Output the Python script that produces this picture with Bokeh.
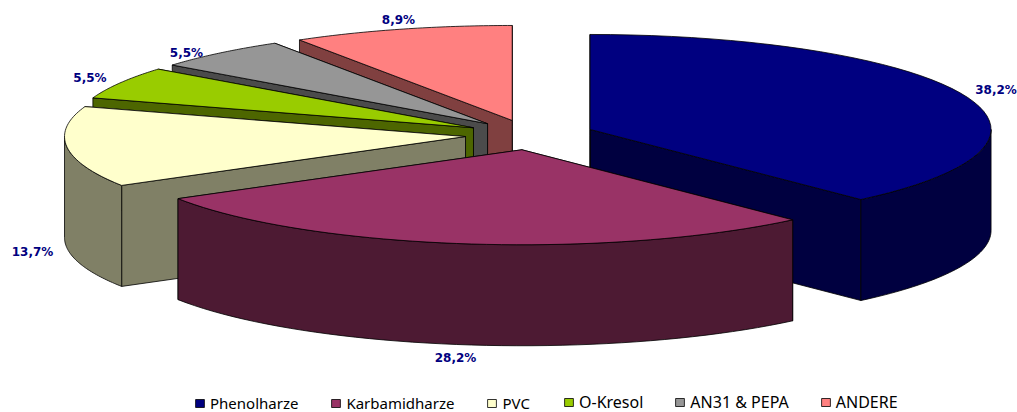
import numpy as np
from bokeh.plotting import figure
from bokeh.models import Range1d, Legend, LegendItem
from bokeh.core.properties import value
from bokeh.embed import file_html
from bokeh.resources import INLINE

categories = ["Phenolharze", "Karbamidharze", "PVC", "O-Kresol", "AN31 & PEPA", "ANDERE"]
shares = [38.2, 28.2, 13.7, 5.5, 5.5, 8.9]
share_labels = ["38,2%", "28,2%", "13,7%", "5,5%", "5,5%", "8,9%"]

top_colors = ["#000080", "#993366", "#FFFFCC", "#99CC00", "#969696", "#FF8080"]
side_colors = ["#000040", "#4D1A33", "#808066", "#4D6600", "#4B4B4B", "#804040"]
label_x = [995.5, 455, 32, 89.5, 186, 398]
label_y = [89, 357, 251, 77, 52, 19]
apex_nudge_x = [0.5, 0.5, -2, -1.2, -0.6, -0.8]

CX, CY, RX, RY, DEPTH, EXPLODE = 530.0, 134.4, 401.0, 95.0, 101.0, 0.158
EDGE = "#000000"
EW = 0.8

p = figure(width=1017, height=412, output_backend="svg", toolbar_location=None,
           x_range=Range1d(0, 1017), y_range=Range1d(412, 0),
           min_border=0, outline_line_color=None)
p.xaxis.visible = False
p.yaxis.visible = False
p.grid.visible = False
p.background_fill_color = "white"


def rim(ax, ay, a0, a1, n=48):
    t = np.radians(np.linspace(a0, a1, n))
    return ax + RX * np.sin(t), ay - RY * np.cos(t)


edges = np.concatenate([[0], np.cumsum(shares)]) / sum(shares) * 360
slices = []
for i in range(len(shares)):
    a0, a1 = edges[i], edges[i + 1]
    mid = np.radians((a0 + a1) / 2)
    slices.append((i, a0, a1,
                   CX + EXPLODE * RX * np.sin(mid) + apex_nudge_x[i],
                   CY - EXPLODE * RY * np.cos(mid)))

tops = {}
# Painter's order: back slices first, the front slice last
for i, a0, a1, ax, ay in [slices[k] for k in (5, 4, 3, 2, 0, 1)]:
    xs, ys = [], []
    for a in (a1, a0):
        ex, ey = rim(ax, ay, a, a, n=1)
        xs.append([ax, ex[0], ex[0], ax])
        ys.append([ay, ey[0], ey[0] + DEPTH, ay + DEPTH])
    lo, hi = max(a0, 90), min(a1, 270)
    if hi > lo:
        tx, ty = rim(ax, ay, lo, hi)
        xs.append(list(tx) + list(tx[::-1]))
        ys.append(list(ty) + list((ty + DEPTH)[::-1]))
    p.patches(xs, ys, fill_color=side_colors[i], line_color=EDGE, line_width=EW)
    tx, ty = rim(ax, ay, a0, a1)
    tops[i] = p.patch([ax] + list(tx), [ay] + list(ty), fill_color=top_colors[i],
                      line_color=EDGE, line_width=EW)

p.text(label_x, label_y, text=share_labels, text_color="#000080",
       text_font=value("DejaVu Sans"), text_font_style="bold", text_font_size="12px",
       text_align="center", text_baseline="middle")


def make_legend(idx, x, y, size, gap):
    return Legend(
        items=[LegendItem(label=categories[i], renderers=[tops[i]]) for i in idx],
        orientation="horizontal", location=(x, y), spacing=gap, padding=0, margin=0,
        glyph_width=11, glyph_height=10, label_standoff=5,
        label_text_font="Noto Sans", label_text_font_size=size, label_text_color="#000000",
        background_fill_alpha=0, border_line_color=None,
    )


p.add_layout(make_legend([0, 1, 2], 194, -1, "15px", 32), "center")
p.add_layout(make_legend([3, 4, 5], 563, -1, "16px", 31), "center")

open("out.html", "w").write(file_html(p, INLINE))
